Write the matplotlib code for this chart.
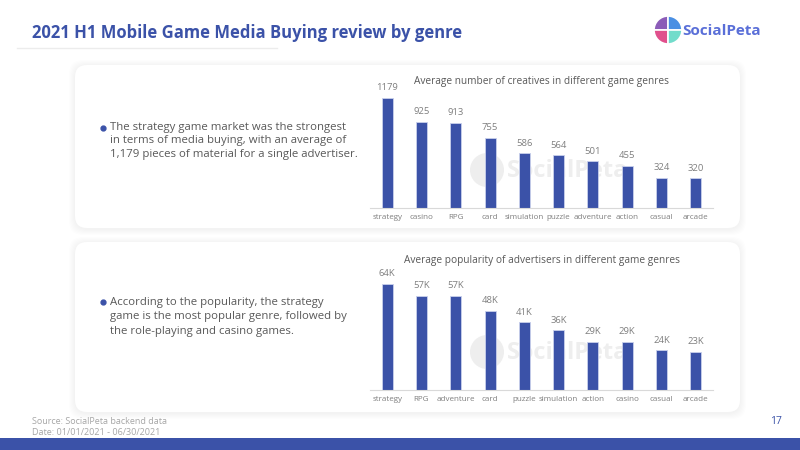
import matplotlib.pyplot as plt
from matplotlib.patches import FancyBboxPatch, Wedge, Rectangle, Circle

plt.rcParams['font.family'] = ['Open Sans', 'DejaVu Sans']

genres1 = ["strategy", "casino", "RPG", "card", "simulation", "puzzle", "adventure", "action", "casual", "arcade"]
creatives = [1179, 925, 913, 755, 586, 564, 501, 455, 324, 320]

genres2 = ["strategy", "RPG", "adventure", "card", "puzzle", "simulation", "action", "casino", "casual", "arcade"]
popularity = [64, 57, 57, 48, 41, 36, 29, 29, 24, 23]

title = "2021 H1 Mobile Game Media Buying review by genre"
note1 = ("The strategy game market was the strongest\n"
         "in terms of media buying, with an average of\n"
         "1,179 pieces of material for a single advertiser.")
note2 = ("According to the popularity, the strategy\n"
         "game is the most popular genre, followed by\n"
         "the role-playing and casino games.")

BLUE = "#3B52A8"
GREY = "#7F7F7F"

fig = plt.figure(figsize=(8, 4.5), dpi=100)
bg = fig.add_axes([0, 0, 1, 1])
bg.set_xlim(0, 800)
bg.set_ylim(450, 0)
bg.axis("off")

# header
bg.text(32, 33, title, color=BLUE, fontsize=12, fontweight="bold", va="center")
bg.plot([17, 277], [48, 48], color="#ECECEC", lw=1)

# logo (y axis is flipped, so angles run clockwise on screen)
cx, cy, r = 668, 30, 14
for a1, a2, c in [(180, 270, "#8B5CB8"), (270, 360, "#4A8FE3"), (90, 180, "#E0508C"), (0, 90, "#72DCCB")]:
    bg.add_patch(Wedge((cx, cy), r, a1, a2, facecolor=c, edgecolor="white", lw=1.2))
bg.text(682, 31, "SocialPeta", color="#5A6FD8", fontsize=11, fontweight="bold", va="center")

# cards with soft shadow
for (x0, y0, x1, y1) in [(75, 65, 740, 228), (75, 242, 740, 412)]:
    for k in [6, 5, 4, 3, 2, 1]:
        bg.add_patch(FancyBboxPatch((x0 - k, y0 - k + 1), x1 - x0 + 2 * k, y1 - y0 + 2 * k,
                                    boxstyle="round,pad=0,rounding_size=14",
                                    facecolor="black", edgecolor="none", alpha=0.008))
    bg.add_patch(FancyBboxPatch((x0, y0), x1 - x0, y1 - y0,
                                boxstyle="round,pad=0,rounding_size=12",
                                facecolor="white", edgecolor="none"))

# faint watermarks behind the charts
for wy in [170, 352]:
    bg.add_patch(Circle((487, wy), 17, facecolor="#EEEEEE", edgecolor="none"))
    bg.text(507, wy + 1, "SocialPeta", fontsize=17, fontweight="bold", color="#EEEEEE", va="center")

# bullet notes
bg.plot(103, 128, "o", color=BLUE, ms=3.5)
bg.text(110, 141, note1, color="#595959", fontsize=8.2, va="center", linespacing=1.35)
bg.plot(103, 302, "o", color=BLUE, ms=3.5)
bg.text(110, 317, note2, color="#595959", fontsize=8.2, va="center", linespacing=1.45)

# footer
bg.text(32, 427, "Source: SocialPeta backend data\nDate: 01/01/2021 - 06/30/2021",
        color="#A6A6A6", fontsize=6.5, va="center", linespacing=1.2)
bg.text(776, 422, "17", color=BLUE, fontsize=7.5, ha="center", va="center")
bg.add_patch(Rectangle((0, 438), 800, 12, facecolor=BLUE, edgecolor="none"))


def bar_chart(rect, cats, vals, ymax, labels, ttl, title_y):
    ax = fig.add_axes(rect)
    bars = ax.bar(range(len(cats)), vals, width=0.32, color=BLUE,
                  edgecolor="#C9D0EC", linewidth=0.6, zorder=2)
    ax.set_xlim(-0.5, len(cats) - 0.5)
    ax.set_ylim(0, ymax)
    ax.set_xticks(range(len(cats)))
    ax.set_xticklabels(cats, fontsize=5.8, color=GREY)
    ax.tick_params(axis="x", length=0, pad=4)
    ax.set_yticks([])
    for s in ["top", "right", "left"]:
        ax.spines[s].set_visible(False)
    ax.spines["bottom"].set_color("#D9D9D9")
    ax.patch.set_alpha(0)
    for b, lab in zip(bars, labels):
        ax.annotate(lab, (b.get_x() + b.get_width() / 2, b.get_height()),
                    xytext=(0, 4), textcoords="offset points",
                    ha="center", va="bottom", fontsize=6.8, color=GREY)
    ax.text(0.5, title_y, ttl, transform=ax.transAxes, ha="center", va="center",
            fontsize=7.3, color="#595959")
    return ax


h1 = 1300 * 110 / 1179
bar_chart([370 / 800, 242 / 450, 343 / 800, h1 / 450], genres1, creatives, 1300,
          [str(v) for v in creatives],
          "Average number of creatives in different game genres", (208 - 82) / h1)

h2 = 70 * 106 / 64
bar_chart([370 / 800, 60 / 450, 343 / 800, h2 / 450], genres2, popularity, 70,
          [f"{v}K" for v in popularity],
          "Average popularity of advertisers in different game genres", (390 - 260) / h2)

fig.savefig("out.png", dpi=100)
